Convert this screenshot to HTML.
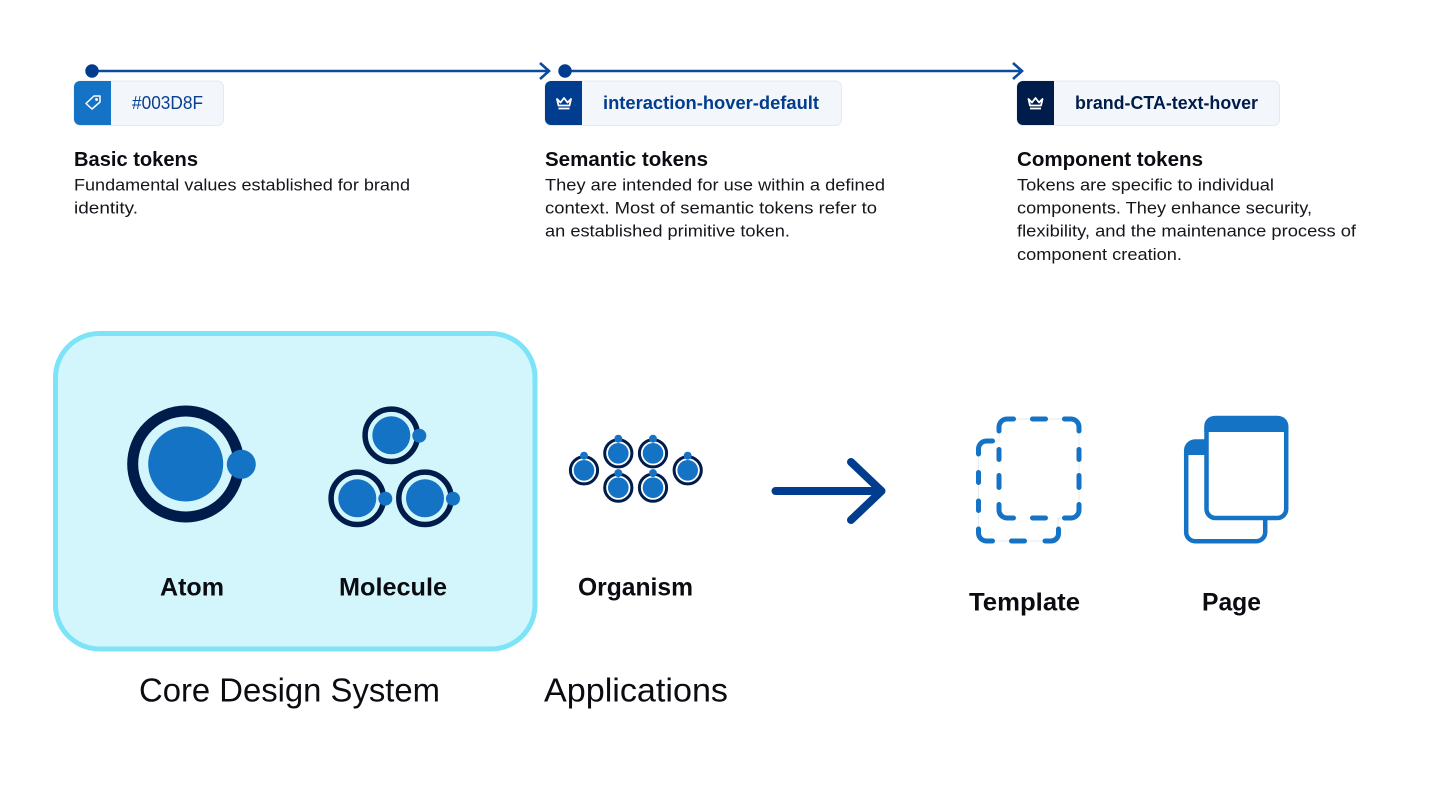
<!DOCTYPE html>
<html><head><meta charset="utf-8"><style>
html,body{margin:0;padding:0;background:#fff;width:1440px;height:785px;overflow:hidden}
svg{display:block}
text{font-family:"Liberation Sans",sans-serif}
.h{font-size:20px;font-weight:bold;fill:#0b0b12}
.b{font-size:17px;fill:#15151c}
.l{font-size:25px;font-weight:bold;fill:#0b0b12}
.c{font-size:33px;fill:#0b0b12}
.t{font-size:18px}
</style></head><body>
<svg width="1440" height="785" viewBox="0 0 1440 785" xmlns="http://www.w3.org/2000/svg">
<defs>
<g id="crown" fill="none" stroke="#fff" stroke-width="1.800" stroke-linejoin="round"><path d="M-7 -4L-3.500 -0.500L0 -5L3.500 -0.500L7 -4L5.500 2.500H-5.500Z"/><path d="M-5.500 5.500H5.500"/></g>
<g id="m"><circle r="26.200" fill="none" stroke="#001c4a" stroke-width="5.500"/><circle r="19" fill="#1473c4"/><circle cx="28" cy="0.400" r="7" fill="#1473c4"/></g>
<g id="o"><circle r="13.600" fill="none" stroke="#001c4a" stroke-width="3"/><circle r="10.300" fill="#1473c4"/><circle cy="-14.600" r="4" fill="#1473c4"/></g>
</defs>

<!-- timeline -->
<g stroke="#0a4aa0" stroke-width="2.600" fill="none">
<path d="M92 71H548M540 63L549 71L540 79"/>
<path d="M565 71H1021M1013 63L1022 71L1013 79"/>
</g>
<circle cx="92" cy="71" r="6.700" fill="#003d8f"/>
<circle cx="565" cy="71" r="6.700" fill="#003d8f"/>

<!-- chips -->
<g>
<rect x="74" y="81" width="149.500" height="44.500" rx="6" fill="#f3f6fa" stroke="#e6e9ee" stroke-width="1"/>
<path d="M111 81H80a6 6 0 0 0-6 6V119a6 6 0 0 0 6 6H111Z" fill="#1473c4"/>
<g transform="translate(93 102.500)" fill="none" stroke="#fff" stroke-width="1.500" stroke-linejoin="round"><path d="M-7 1L1 -6.500H7V-0.500L-1 6.500Z"/><circle cx="3.500" cy="-3" r="0.700"/></g>
<text class="t" x="132" y="109" textLength="71" lengthAdjust="spacingAndGlyphs" fill="#0a4090">#003D8F</text>

<rect x="545" y="81" width="296.500" height="44.500" rx="6" fill="#f3f6fa" stroke="#e6e9ee" stroke-width="1"/>
<path d="M582 81H551a6 6 0 0 0-6 6V119a6 6 0 0 0 6 6H582Z" fill="#003d8f"/>
<use href="#crown" x="564" y="103"/>
<text class="t" x="603" y="109" textLength="216" lengthAdjust="spacingAndGlyphs" fill="#003d8f" font-weight="bold">interaction-hover-default</text>

<rect x="1017" y="81" width="262.500" height="44.500" rx="6" fill="#f3f6fa" stroke="#e6e9ee" stroke-width="1"/>
<path d="M1054 81H1023a6 6 0 0 0-6 6V119a6 6 0 0 0 6 6H1054Z" fill="#001c4a"/>
<use href="#crown" x="1035.500" y="103"/>
<text class="t" x="1075" y="109" textLength="183" lengthAdjust="spacingAndGlyphs" fill="#001c4a" font-weight="bold">brand-CTA-text-hover</text>
</g>

<!-- descriptions -->
<text class="h" x="74" y="166" textLength="124" lengthAdjust="spacingAndGlyphs">Basic tokens</text>
<text class="b" x="74" y="190.500" textLength="336" lengthAdjust="spacingAndGlyphs">Fundamental values established for brand</text>
<text class="b" x="74" y="213.500" textLength="64" lengthAdjust="spacingAndGlyphs">identity.</text>

<text class="h" x="545" y="166" textLength="163" lengthAdjust="spacingAndGlyphs">Semantic tokens</text>
<text class="b" x="545" y="190.500" textLength="340" lengthAdjust="spacingAndGlyphs">They are intended for use within a defined</text>
<text class="b" x="545" y="213.500" textLength="332" lengthAdjust="spacingAndGlyphs">context. Most of semantic tokens refer to</text>
<text class="b" x="545" y="236.500" textLength="245" lengthAdjust="spacingAndGlyphs">an established primitive token.</text>

<text class="h" x="1017" y="166" textLength="186" lengthAdjust="spacingAndGlyphs">Component tokens</text>
<text class="b" x="1017" y="190.500" textLength="257" lengthAdjust="spacingAndGlyphs">Tokens are specific to individual</text>
<text class="b" x="1017" y="213.500" textLength="295" lengthAdjust="spacingAndGlyphs">components. They enhance security,</text>
<text class="b" x="1017" y="236.500" textLength="339" lengthAdjust="spacingAndGlyphs">flexibility, and the maintenance process of</text>
<text class="b" x="1017" y="260" textLength="165" lengthAdjust="spacingAndGlyphs">component creation.</text>

<!-- core box -->
<rect x="55.500" y="333.500" width="479.500" height="315.500" rx="44" fill="#d3f6fd" stroke="#7de3f7" stroke-width="5"/>

<!-- atom -->
<circle cx="185.700" cy="464" r="53" fill="none" stroke="#001c4a" stroke-width="11"/>
<circle cx="185.700" cy="464" r="37.500" fill="#1473c4"/>
<circle cx="241.300" cy="464.300" r="14.500" fill="#1473c4"/>

<!-- molecule -->
<use href="#m" x="391.300" y="435.300"/>
<use href="#m" x="357.300" y="498.300"/>
<use href="#m" x="425" y="498.300"/>

<!-- organism -->
<use href="#o" x="584" y="470.300"/>
<use href="#o" x="618.300" y="453.300"/>
<use href="#o" x="653" y="453.300"/>
<use href="#o" x="687.700" y="470.300"/>
<use href="#o" x="618.300" y="487.700"/>
<use href="#o" x="653" y="487.700"/>

<!-- big arrow -->
<path d="M775.500 491H881M851 462L881.500 491L851 520" fill="none" stroke="#003d8f" stroke-width="8" stroke-linecap="round" stroke-linejoin="round"/>

<!-- template -->
<g fill="none" stroke="#e6ebf0" stroke-width="1">
<path d="M999 441V427a8 8 0 0 1 8-8H1071a8 8 0 0 1 8 8V510a8 8 0 0 1-8 8H1058V533a8 8 0 0 1-8 8H986.500a8 8 0 0 1-8-8V449a8 8 0 0 1 8-8H999"/>
</g>
<g fill="none" stroke="#1473c4" stroke-width="5" stroke-linecap="round">
<path d="M999 431V427a8 8 0 0 1 8-8H1013.500M1032.500 419H1045.500M1064.500 419H1071a8 8 0 0 1 8 8V431M1079 449.500V459.500M1079 475.500V487.500M1079 504.500V510a8 8 0 0 1-8 8H1064.500M1045.500 518H1032.500M1013.500 518H1007a8 8 0 0 1-8-8V504.500M999 487.500V475.500M999 459.500V449.500"/>
<path d="M978.500 454V449a8 8 0 0 1 8-8H992.500M978.500 472.500V482.500M978.500 501V510.500M978.500 529V533a8 8 0 0 0 8 8H992.500M1011.500 541H1024.500M1045 541H1051a7.500 7.500 0 0 0 7.500-7.500V529"/>
</g>

<!-- page -->
<g>
<path d="M1186.200 451a9 9 0 0 1 9-9.500H1215V455H1186.200Z" fill="#1473c4"/>
<rect x="1186.200" y="441.500" width="79" height="99.700" rx="9" fill="none" stroke="#1473c4" stroke-width="4.500"/>
<rect x="1206.500" y="418" width="79.700" height="100" rx="9" fill="#fff" stroke="#1473c4" stroke-width="4.500"/>
<path d="M1204.300 432V426a10 10 0 0 1 10-10H1278.300a10 10 0 0 1 10 10V432Z" fill="#1473c4"/>
</g>

<!-- labels -->
<text class="l" x="160" y="595.500" textLength="64" lengthAdjust="spacingAndGlyphs">Atom</text>
<text class="l" x="339" y="595.500" textLength="108" lengthAdjust="spacingAndGlyphs">Molecule</text>
<text class="l" x="578" y="595.500" textLength="115" lengthAdjust="spacingAndGlyphs">Organism</text>
<text class="l" x="969" y="610.500" textLength="111" lengthAdjust="spacingAndGlyphs">Template</text>
<text class="l" x="1202" y="610.500" textLength="59" lengthAdjust="spacingAndGlyphs">Page</text>
<text class="c" x="139" y="701.500" textLength="301" lengthAdjust="spacingAndGlyphs">Core Design System</text>
<text class="c" x="544" y="701.500" textLength="184" lengthAdjust="spacingAndGlyphs">Applications</text>
</svg>
</body></html>
